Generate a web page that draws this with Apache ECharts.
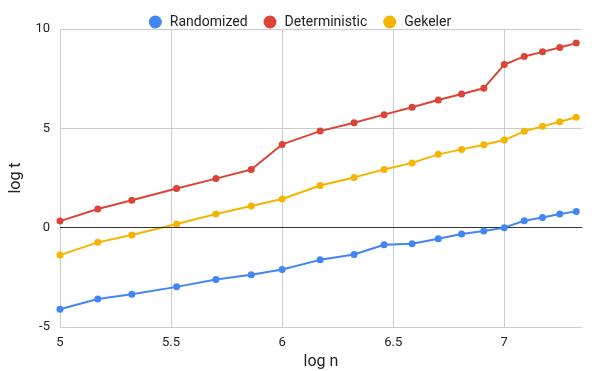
<!DOCTYPE html>
<html>
<head>
<meta charset="utf-8">
<script src="https://cdn.jsdelivr.net/npm/echarts@6/dist/echarts.min.js"></script>
<style>
  html, body { margin: 0; padding: 0; background: #fff; }
  #chart { width: 600px; height: 371px; }
</style>
</head>
<body>
<div id="chart"></div>
<script>
// log n positions of the measurements
const logN = [5.0, 5.17, 5.323, 5.525, 5.702, 5.861, 6.0, 6.171, 6.324, 6.459,
  6.585, 6.703, 6.808, 6.908, 7.0, 7.09, 7.172, 7.25, 7.324];

const randomized = [-4.11, -3.59, -3.35, -2.98, -2.61, -2.37, -2.11, -1.62, -1.35, -0.86,
  -0.81, -0.56, -0.32, -0.17, 0.0, 0.35, 0.51, 0.69, 0.82];
const deterministic = [0.33, 0.94, 1.38, 1.97, 2.47, 2.93, 4.19, 4.86, 5.28, 5.69,
  6.06, 6.43, 6.73, 7.02, 8.21, 8.62, 8.85, 9.07, 9.29];
const gekeler = [-1.38, -0.74, -0.37, 0.18, 0.69, 1.09, 1.44, 2.12, 2.53, 2.93,
  3.26, 3.69, 3.94, 4.17, 4.41, 4.85, 5.10, 5.33, 5.56];

const xTicks = [5, 5.5, 6, 6.5, 7];

const names = ['Randomized', 'Deterministic', 'Gekeler'];
const colors = ['#4285F4', '#DB4437', '#F4B400'];
const seriesData = [randomized, deterministic, gekeler];

const chart = echarts.init(document.getElementById('chart'));

const series = seriesData.map((vals, i) => ({
  name: names[i],
  type: 'line',
  data: vals.map((v, j) => [logN[j], v]),
  symbol: 'circle',
  symbolSize: 7,
  lineStyle: { width: 2, color: colors[i] },
  itemStyle: { color: colors[i] },
  z: 3 + (2 - i)
}));

// black baseline at zero
series.push({
  type: 'line',
  data: [],
  markLine: {
    silent: true,
    symbol: 'none',
    label: { show: false },
    lineStyle: { color: '#333', width: 1, type: 'solid' },
    data: [{ yAxis: 0 }]
  },
  z: 2
});

chart.setOption({
  animation: false,
  textStyle: { fontFamily: 'Roboto' },
  legend: {
    data: names,
    top: 10,
    left: 'center',
    icon: 'circle',
    itemWidth: 13,
    itemHeight: 13,
    itemGap: 16,
    textStyle: { fontSize: 14, color: '#222', padding: [0, 0, 0, 3] }
  },
  grid: { left: 60, right: 18, top: 29, bottom: 44, outerBoundsMode: 'none' },
  xAxis: {
    type: 'value',
    min: 5,
    max: 7.35,
    name: 'log n',
    nameLocation: 'middle',
    nameGap: 26,
    nameTextStyle: { fontSize: 16, color: '#222' },
    axisLine: { show: false },
    axisTick: { show: false, customValues: xTicks },
    axisLabel: { customValues: xTicks, fontSize: 13, color: '#222', margin: 9 },
    splitLine: { show: true, lineStyle: { color: '#ccc' } }
  },
  yAxis: {
    type: 'value',
    min: -5,
    max: 10,
    interval: 5,
    name: 'log t',
    nameLocation: 'middle',
    nameGap: 26,
    nameTextStyle: { fontSize: 16, color: '#222' },
    axisLine: { show: false },
    axisTick: { show: false },
    axisLabel: { fontSize: 13, color: '#222', margin: 10 },
    splitLine: { show: true, lineStyle: { color: '#ccc' } }
  },
  series: series
});
</script>
</body>
</html>
